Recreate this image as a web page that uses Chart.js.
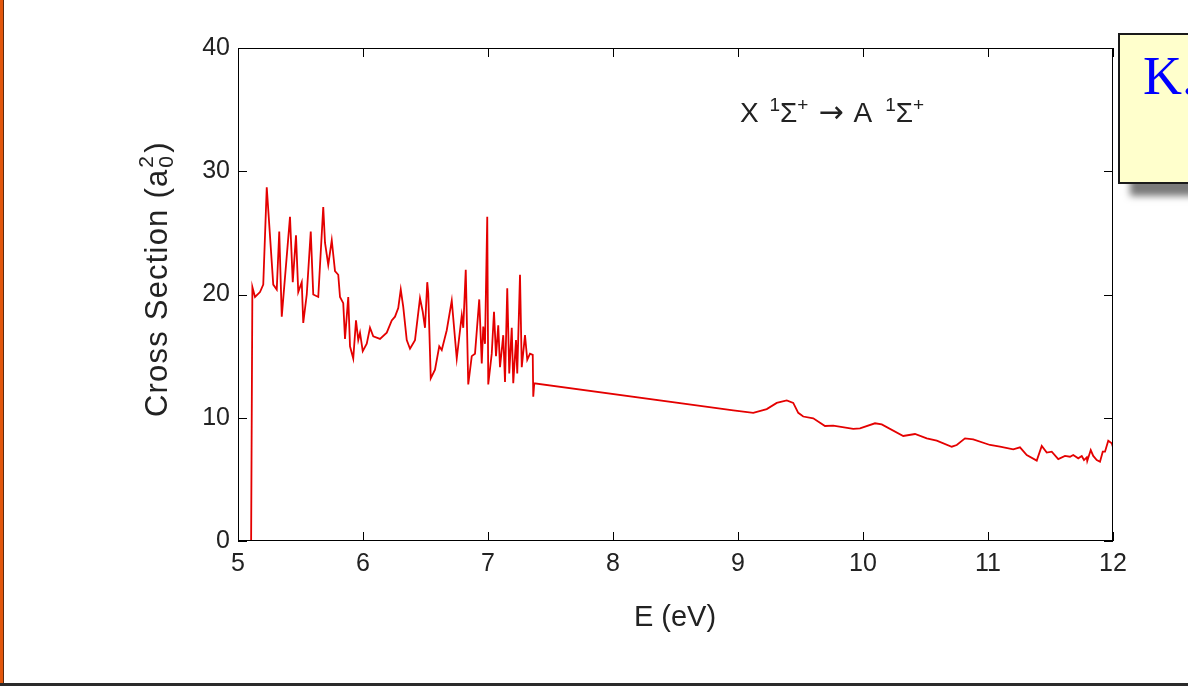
<!DOCTYPE html>
<html>
<head>
<meta charset="utf-8">
<script src="https://cdn.jsdelivr.net/npm/chart.js@4"></script>
<style>
  body { margin: 0; background: #fff; overflow: hidden; }
  #wrap { position: relative; width: 1188px; height: 686px; }
  #c { position: absolute; left: 0; top: 0; }
  #leftbar { position: absolute; left: 0; top: 0; width: 3px; height: 686px; background: #e2560c; border-right: 1px solid #5a2a10; }
  #bottombar { position: absolute; left: 0; top: 683px; width: 1188px; height: 3px; background: #2a2a2a; }
  #note { position: absolute; left: 1118px; top: 33px; width: 200px; height: 147px;
    background: #ffffcc; border: 2px solid #1a1a1a; box-shadow: 12px 12px 7px #7a7a7a;
    font-family: "Liberation Serif", "Times New Roman", serif; font-size: 54px; color: #0000ff; }
  #note span { position: absolute; left: 23px; top: 10px; }
</style>
</head>
<body>
<div id="wrap">
  <canvas id="c" width="1188" height="686"></canvas>
  <div id="leftbar"></div>
  <div id="bottombar"></div>
  <div id="note"><span>K.</span></div>
</div>
<script>
// energy (eV) and cross section (a0^2)
const energy = [5.0, 5.105, 5.115, 5.136, 5.176, 5.202, 5.230, 5.282, 5.310, 5.330, 5.350,
  5.416, 5.438, 5.464, 5.482, 5.510, 5.522, 5.550, 5.582, 5.602, 5.642, 5.682, 5.696, 5.722,
  5.750, 5.776, 5.802, 5.816, 5.842, 5.856, 5.882, 5.896, 5.922, 5.944, 5.962, 5.976, 5.998,
  6.030, 6.056, 6.082, 6.136, 6.190, 6.230, 6.256, 6.282, 6.302, 6.322, 6.350, 6.376, 6.416,
  6.456, 6.478, 6.496, 6.514, 6.522, 6.542, 6.576, 6.610, 6.630, 6.670, 6.710, 6.750, 6.790,
  6.802, 6.822, 6.842, 6.870, 6.896, 6.930, 6.950, 6.962, 6.976, 6.994, 7.002, 7.030, 7.048,
  7.064, 7.082, 7.096, 7.122, 7.136, 7.154, 7.170, 7.190, 7.202, 7.224, 7.234, 7.256, 7.270,
  7.296, 7.314, 7.336, 7.358, 7.362, 7.370, 8.962, 9.122, 9.230, 9.310, 9.390, 9.442, 9.482,
  9.522, 9.602, 9.696, 9.762, 9.922, 9.976, 10.096, 10.150, 10.322, 10.416, 10.510, 10.590,
  10.710, 10.750, 10.816, 10.882, 11.016, 11.096, 11.202, 11.256, 11.310, 11.390, 11.430,
  11.470, 11.510, 11.562, 11.616, 11.656, 11.682, 11.722, 11.750, 11.768, 11.790, 11.794,
  11.822, 11.842, 11.870, 11.896, 11.918, 11.936, 11.962, 11.990, 12.0];
const crossSection = [0, 0, 20.6, 19.8, 20.2, 20.8, 28.7, 20.8, 20.4, 25.1, 18.2,
  26.3, 21.0, 24.8, 20.2, 21.0, 17.7, 20.0, 25.1, 20.0, 19.8, 27.1, 24.2, 22.4,
  24.4, 21.9, 21.6, 19.8, 19.3, 16.4, 19.8, 15.8, 14.8, 17.9, 16.3, 16.9, 15.4,
  16.0, 17.3, 16.6, 16.4, 16.9, 17.9, 18.2, 18.9, 20.4, 19.0, 16.3, 15.6, 16.3,
  19.7, 18.6, 17.3, 21.0, 20.1, 13.2, 13.9, 15.8, 15.5, 17.1, 19.5, 14.8, 18.3,
  17.3, 22.0, 12.7, 15.0, 15.2, 19.6, 14.4, 17.4, 16.0, 26.3, 12.7, 15.2, 18.6,
  15.0, 17.5, 14.1, 16.7, 12.9, 20.5, 13.6, 17.3, 12.8, 16.3, 13.6, 21.6, 14.1,
  16.7, 14.7, 15.2, 15.1, 11.7, 12.8, 10.6, 10.4, 10.7, 11.2, 11.4, 11.2, 10.4,
  10.1, 9.95, 9.33, 9.36, 9.1, 9.14, 9.55, 9.46, 8.52, 8.68, 8.33, 8.14,
  7.65, 7.79, 8.33, 8.25, 7.79, 7.65, 7.44, 7.6, 6.98, 6.52, 7.71,
  7.17, 7.25, 6.65, 6.9, 6.84, 6.98, 6.71, 6.9, 6.57, 6.79, 6.49,
  7.38, 6.9, 6.57, 6.43, 7.25, 7.25, 8.14, 7.93, 7.6];
const xTicks = [5, 6, 7, 8, 9, 10, 11, 12];
const yTicks = [0, 10, 20, 30, 40];

const sans = "'Liberation Sans', Arial, sans-serif";
const points = energy.map((e, i) => ({ x: e, y: crossSection[i] }));

// box, inward ticks on all four sides, axis titles and the transition label
const decor = {
  id: 'decor',
  afterDatasetsDraw(chart) {
    const { ctx, chartArea: a, scales } = chart;
    const x = scales.x, y = scales.y;
    ctx.save();
    ctx.strokeStyle = '#000';
    ctx.lineWidth = 1;
    ctx.strokeRect(a.left + 0.5, a.top + 0.5, a.right - a.left - 1, a.bottom - a.top - 1);
    const tl = 9;
    ctx.beginPath();
    xTicks.forEach(v => {
      const px = Math.round(x.getPixelForValue(v)) + 0.5;
      ctx.moveTo(px, a.bottom); ctx.lineTo(px, a.bottom - tl);
      ctx.moveTo(px, a.top); ctx.lineTo(px, a.top + tl);
    });
    yTicks.forEach(v => {
      const py = Math.round(y.getPixelForValue(v)) + 0.5;
      ctx.moveTo(a.left, py); ctx.lineTo(a.left + tl, py);
      ctx.moveTo(a.right, py); ctx.lineTo(a.right - tl, py);
    });
    ctx.stroke();

    ctx.fillStyle = '#222';
    // x title
    ctx.font = '29px ' + sans;
    ctx.textAlign = 'center';
    ctx.textBaseline = 'alphabetic';
    ctx.fillText('E (eV)', 675, 626);

    // y title, rotated
    ctx.save();
    ctx.translate(167, 417);
    ctx.rotate(-Math.PI / 2);
    ctx.textAlign = 'left';
    ctx.letterSpacing = '1.2px';
    ctx.font = '31px ' + sans;
    let cx = 0;
    const main = 'Cross Section (a';
    ctx.fillText(main, cx, 0);
    cx += ctx.measureText(main).width + 1;
    ctx.font = '21px ' + sans;
    ctx.fillText('0', cx, 6);
    ctx.fillText('2', cx, -14);
    cx += ctx.measureText('0').width + 2;
    ctx.font = '31px ' + sans;
    ctx.fillText(')', cx, 0);
    ctx.restore();

    // transition label
    ctx.textAlign = 'left';
    const base = 122;
    const big = '28px ' + sans, small = '19px ' + sans;
    let tx = 740;
    const put = (s, f, dy) => { ctx.font = f; ctx.fillText(s, tx, base + dy); tx += ctx.measureText(s).width; };
    put('X ', big, 0);
    tx += 3;
    put('1', small, -11);
    put('\u03A3', big, 0);
    put('+', small, -11);
    tx += 10;
    put('\u2192', "30px 'DejaVu Sans', sans-serif", 0);
    tx += 10;
    put('A', big, 0);
    tx += 13;
    put('1', small, -11);
    put('\u03A3', big, 0);
    put('+', small, -11);
    ctx.restore();
  }
};

new Chart(document.getElementById('c'), {
  type: 'line',
  data: {
    datasets: [{
      data: points,
      borderColor: 'rgb(228,0,0)',
      borderWidth: 1.8,
      pointRadius: 0,
      tension: 0,
      fill: false
    }]
  },
  options: {
    responsive: false,
    animation: false,
    devicePixelRatio: 1,
    layout: { padding: { left: 0, top: 48, right: 75, bottom: 0 } },
    plugins: { legend: { display: false }, tooltip: { enabled: false } },
    scales: {
      x: {
        type: 'linear', min: 5, max: 12,
        afterFit: s => { s.height = 145; },
        afterBuildTicks: s => { s.ticks = xTicks.map(v => ({ value: v })); },
        grid: { display: false, drawTicks: false },
        border: { display: false },
        ticks: { color: '#222', font: { family: sans, size: 25 }, padding: 8, maxRotation: 0 }
      },
      y: {
        min: 0, max: 40,
        afterFit: s => { s.width = 238; },
        afterBuildTicks: s => { s.ticks = yTicks.map(v => ({ value: v })); },
        grid: { display: false, drawTicks: false },
        border: { display: false },
        ticks: { color: '#222', font: { family: sans, size: 25 }, padding: 8 }
      }
    }
  },
  plugins: [decor]
});
</script>
</body>
</html>
